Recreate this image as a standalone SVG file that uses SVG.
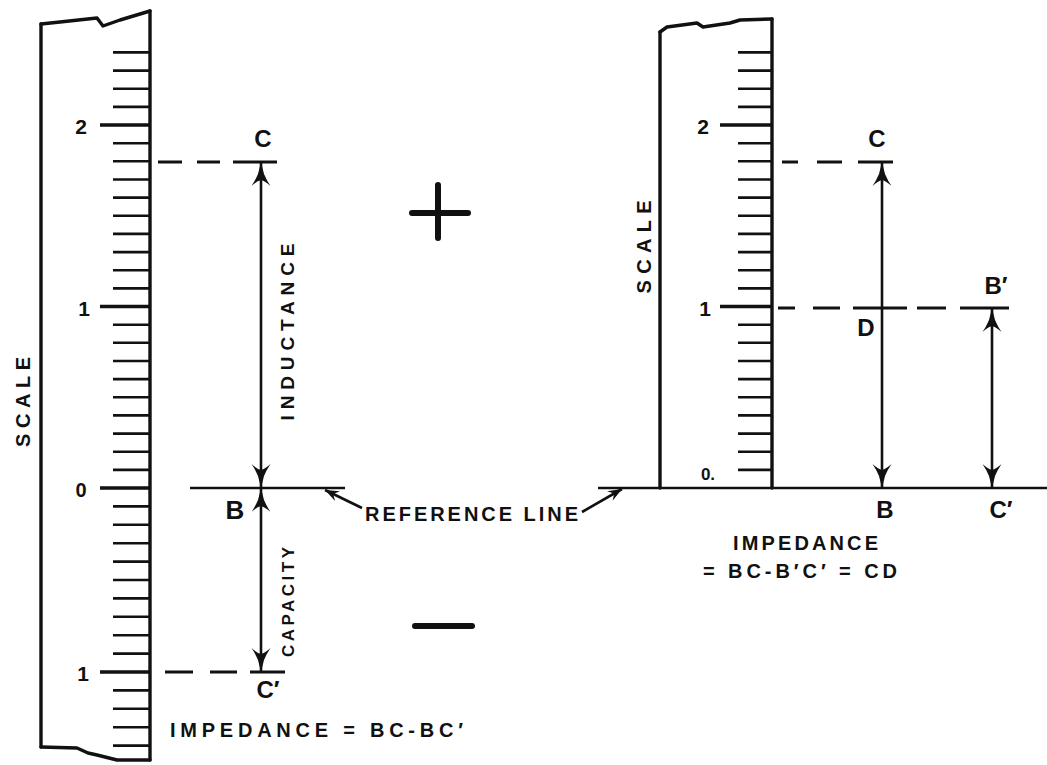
<svg xmlns="http://www.w3.org/2000/svg" width="1047" height="765" viewBox="0 0 1047 765">
<style>
.ol{fill:none;stroke:#111;stroke-width:3.4;stroke-linejoin:round;stroke-linecap:round}
.tk{fill:none;stroke:#111;stroke-width:2.6}
.mj{fill:none;stroke:#111;stroke-width:3.4}
.ln{fill:none;stroke:#111;stroke-width:2.6}
.ds{fill:none;stroke:#111;stroke-width:2.8}
.t{font-family:"Liberation Sans",Arial,sans-serif;fill:#111;font-weight:bold}
.sign{fill:none;stroke:#111;stroke-width:6;stroke-linecap:round}
</style>
<defs>
<marker id="ah" viewBox="0 0 25 20" refX="25" refY="10" markerWidth="25" markerHeight="20" markerUnits="userSpaceOnUse" orient="auto-start-reverse">
<path d="M25,10 L13,7 Q6,4 1,0.5 Q6,6 7,10 Q6,14 1,19.5 Q6,16 13,13 Z" fill="#111"/>
</marker>
<marker id="la" viewBox="0 0 14 11" refX="14" refY="5.5" markerWidth="14" markerHeight="11" markerUnits="userSpaceOnUse" orient="auto">
<path d="M14,5.5 L0,0 L5,5.5 L0,11 Z" fill="#111"/>
</marker>
</defs>
<rect width="1047" height="765" fill="#fff"/>

<g id="left-scale">
<path class="ol" d="M41,24 L60,22 L97,18 L103,26 L120,20 L150,11"/>
<path class="ol" d="M41,24 V747"/>
<path class="ol" d="M150,11 V760"/>
<path class="ol" d="M41,747 L77,748 L88,753 L97,755 L117,760 L150,760"/>
<path class="tk" d="M113,469.9H150M113,451.7H150M113,433.6H150M113,415.4H150M113,397.3H150M113,379.1H150M113,361H150M113,342.8H150M113,324.7H150M113,288.4H150M113,270.2H150M113,252.1H150M113,233.9H150M113,215.8H150M113,197.6H150M113,179.5H150M113,161.3H150M113,143.2H150M113,106.9H150M113,88.7H150M113,70.6H150M113,52.4H150M113,506.4H150M113,524.8H150M113,543.2H150M113,561.6H150M113,580H150M113,598.4H150M113,616.8H150M113,635.2H150M113,653.6H150M113,690.4H150M113,708.8H150M113,727.2H150M113,745.6H150"/>
<path class="mj" d="M100,125H150M100,306.5H150M100,488H150M100,672H150"/>
<text class="t" x="81" y="134" font-size="21" text-anchor="middle">2</text>
<text class="t" x="84" y="316" font-size="21" text-anchor="middle">1</text>
<text class="t" x="81" y="497" font-size="20" text-anchor="middle">0</text>
<text class="t" x="83" y="681" font-size="21" text-anchor="middle">1</text>
<text class="t" x="0" y="0" font-size="20" text-anchor="middle" textLength="90" lengthAdjust="spacing" transform="translate(30,402) rotate(-90)">SCALE</text>
</g>

<g id="right-scale">
<path class="ol" d="M660,32 L667,27 L697,23 L703,27 L730,23 L740,20 L772,19"/>
<path class="ol" d="M660,32 V488"/>
<path class="ol" d="M772,19 V488"/>
<path class="tk" d="M738,469.9H772M738,451.7H772M738,433.6H772M738,415.4H772M738,397.3H772M738,379.1H772M738,361H772M738,342.8H772M738,324.7H772M738,288.4H772M738,270.2H772M738,252.1H772M738,233.9H772M738,215.8H772M738,197.6H772M738,179.5H772M738,161.3H772M738,143.2H772M738,106.9H772M738,88.7H772M738,70.6H772M738,52.4H772"/>
<path class="mj" d="M720,125H772M720,306.5H772"/>
<text class="t" x="703" y="134" font-size="21" text-anchor="middle">2</text>
<text class="t" x="705" y="316" font-size="21" text-anchor="middle">1</text>
<text class="t" x="708" y="480" font-size="17" text-anchor="middle">0.</text>
<text class="t" x="0" y="0" font-size="20" text-anchor="middle" textLength="93" lengthAdjust="spacing" transform="translate(651,247) rotate(-90)">SCALE</text>
</g>

<g id="signs">
<path class="sign" d="M412,213H468M438,185V238"/>
<path class="sign" d="M415,626H472"/>
</g>

<g id="connectors">
<path class="ln" d="M190,488H345"/>
<path class="ln" d="M598,488H1047"/>
<path class="ds" d="M158,162H182M197,162H220M233,162H277"/>
<path class="ds" d="M165,672H193M210,672H237M250,672H285"/>
<path class="ds" d="M782,162H798M817,162H842M858,162H893"/>
<path class="ds" d="M778,308H795M813,308H840M853,308H907M917,308H946M960,308H1009"/>
<path class="ln" d="M261,162V488" marker-start="url(#ah)" marker-end="url(#ah)"/>
<path class="ln" d="M261,488V672" marker-start="url(#ah)" marker-end="url(#ah)"/>
<path class="ln" d="M882,162V488" marker-start="url(#ah)" marker-end="url(#ah)"/>
<path class="ln" d="M992,308V488" marker-start="url(#ah)" marker-end="url(#ah)"/>
<path class="ln" d="M362,508L325,490" marker-end="url(#la)"/>
<path class="ln" d="M582,512L622,489" marker-end="url(#la)"/>
</g>

<g id="labels-left">
<text class="t" x="263" y="147" font-size="24" text-anchor="middle">C</text>
<text class="t" x="235" y="519" font-size="26" text-anchor="middle">B</text>
<text class="t" x="268" y="698" font-size="24" text-anchor="middle">C′</text>
<text class="t" x="0" y="0" font-size="19" text-anchor="middle" textLength="177" lengthAdjust="spacing" transform="translate(294,332) rotate(-90)">INDUCTANCE</text>
<text class="t" x="0" y="0" font-size="17" text-anchor="middle" textLength="110" lengthAdjust="spacing" transform="translate(294,602) rotate(-90)">CAPACITY</text>
<text class="t" x="365" y="521" font-size="20" textLength="213" lengthAdjust="spacing">REFERENCE LINE</text>
<text class="t" x="170" y="737" font-size="20" textLength="293" lengthAdjust="spacing">IMPEDANCE = BC-BC′</text>
</g>

<g id="labels-right">
<text class="t" x="877" y="147" font-size="24" text-anchor="middle">C</text>
<text class="t" x="866" y="336" font-size="24" text-anchor="middle">D</text>
<text class="t" x="996" y="294" font-size="24" text-anchor="middle">B′</text>
<text class="t" x="885" y="518" font-size="24" text-anchor="middle">B</text>
<text class="t" x="1001" y="518" font-size="24" text-anchor="middle">C′</text>
<text class="t" x="733" y="550" font-size="20" textLength="145" lengthAdjust="spacing">IMPEDANCE</text>
<text class="t" x="703" y="578" font-size="20" textLength="194" lengthAdjust="spacing">= BC-B′C′ = CD</text>
</g>
</svg>
